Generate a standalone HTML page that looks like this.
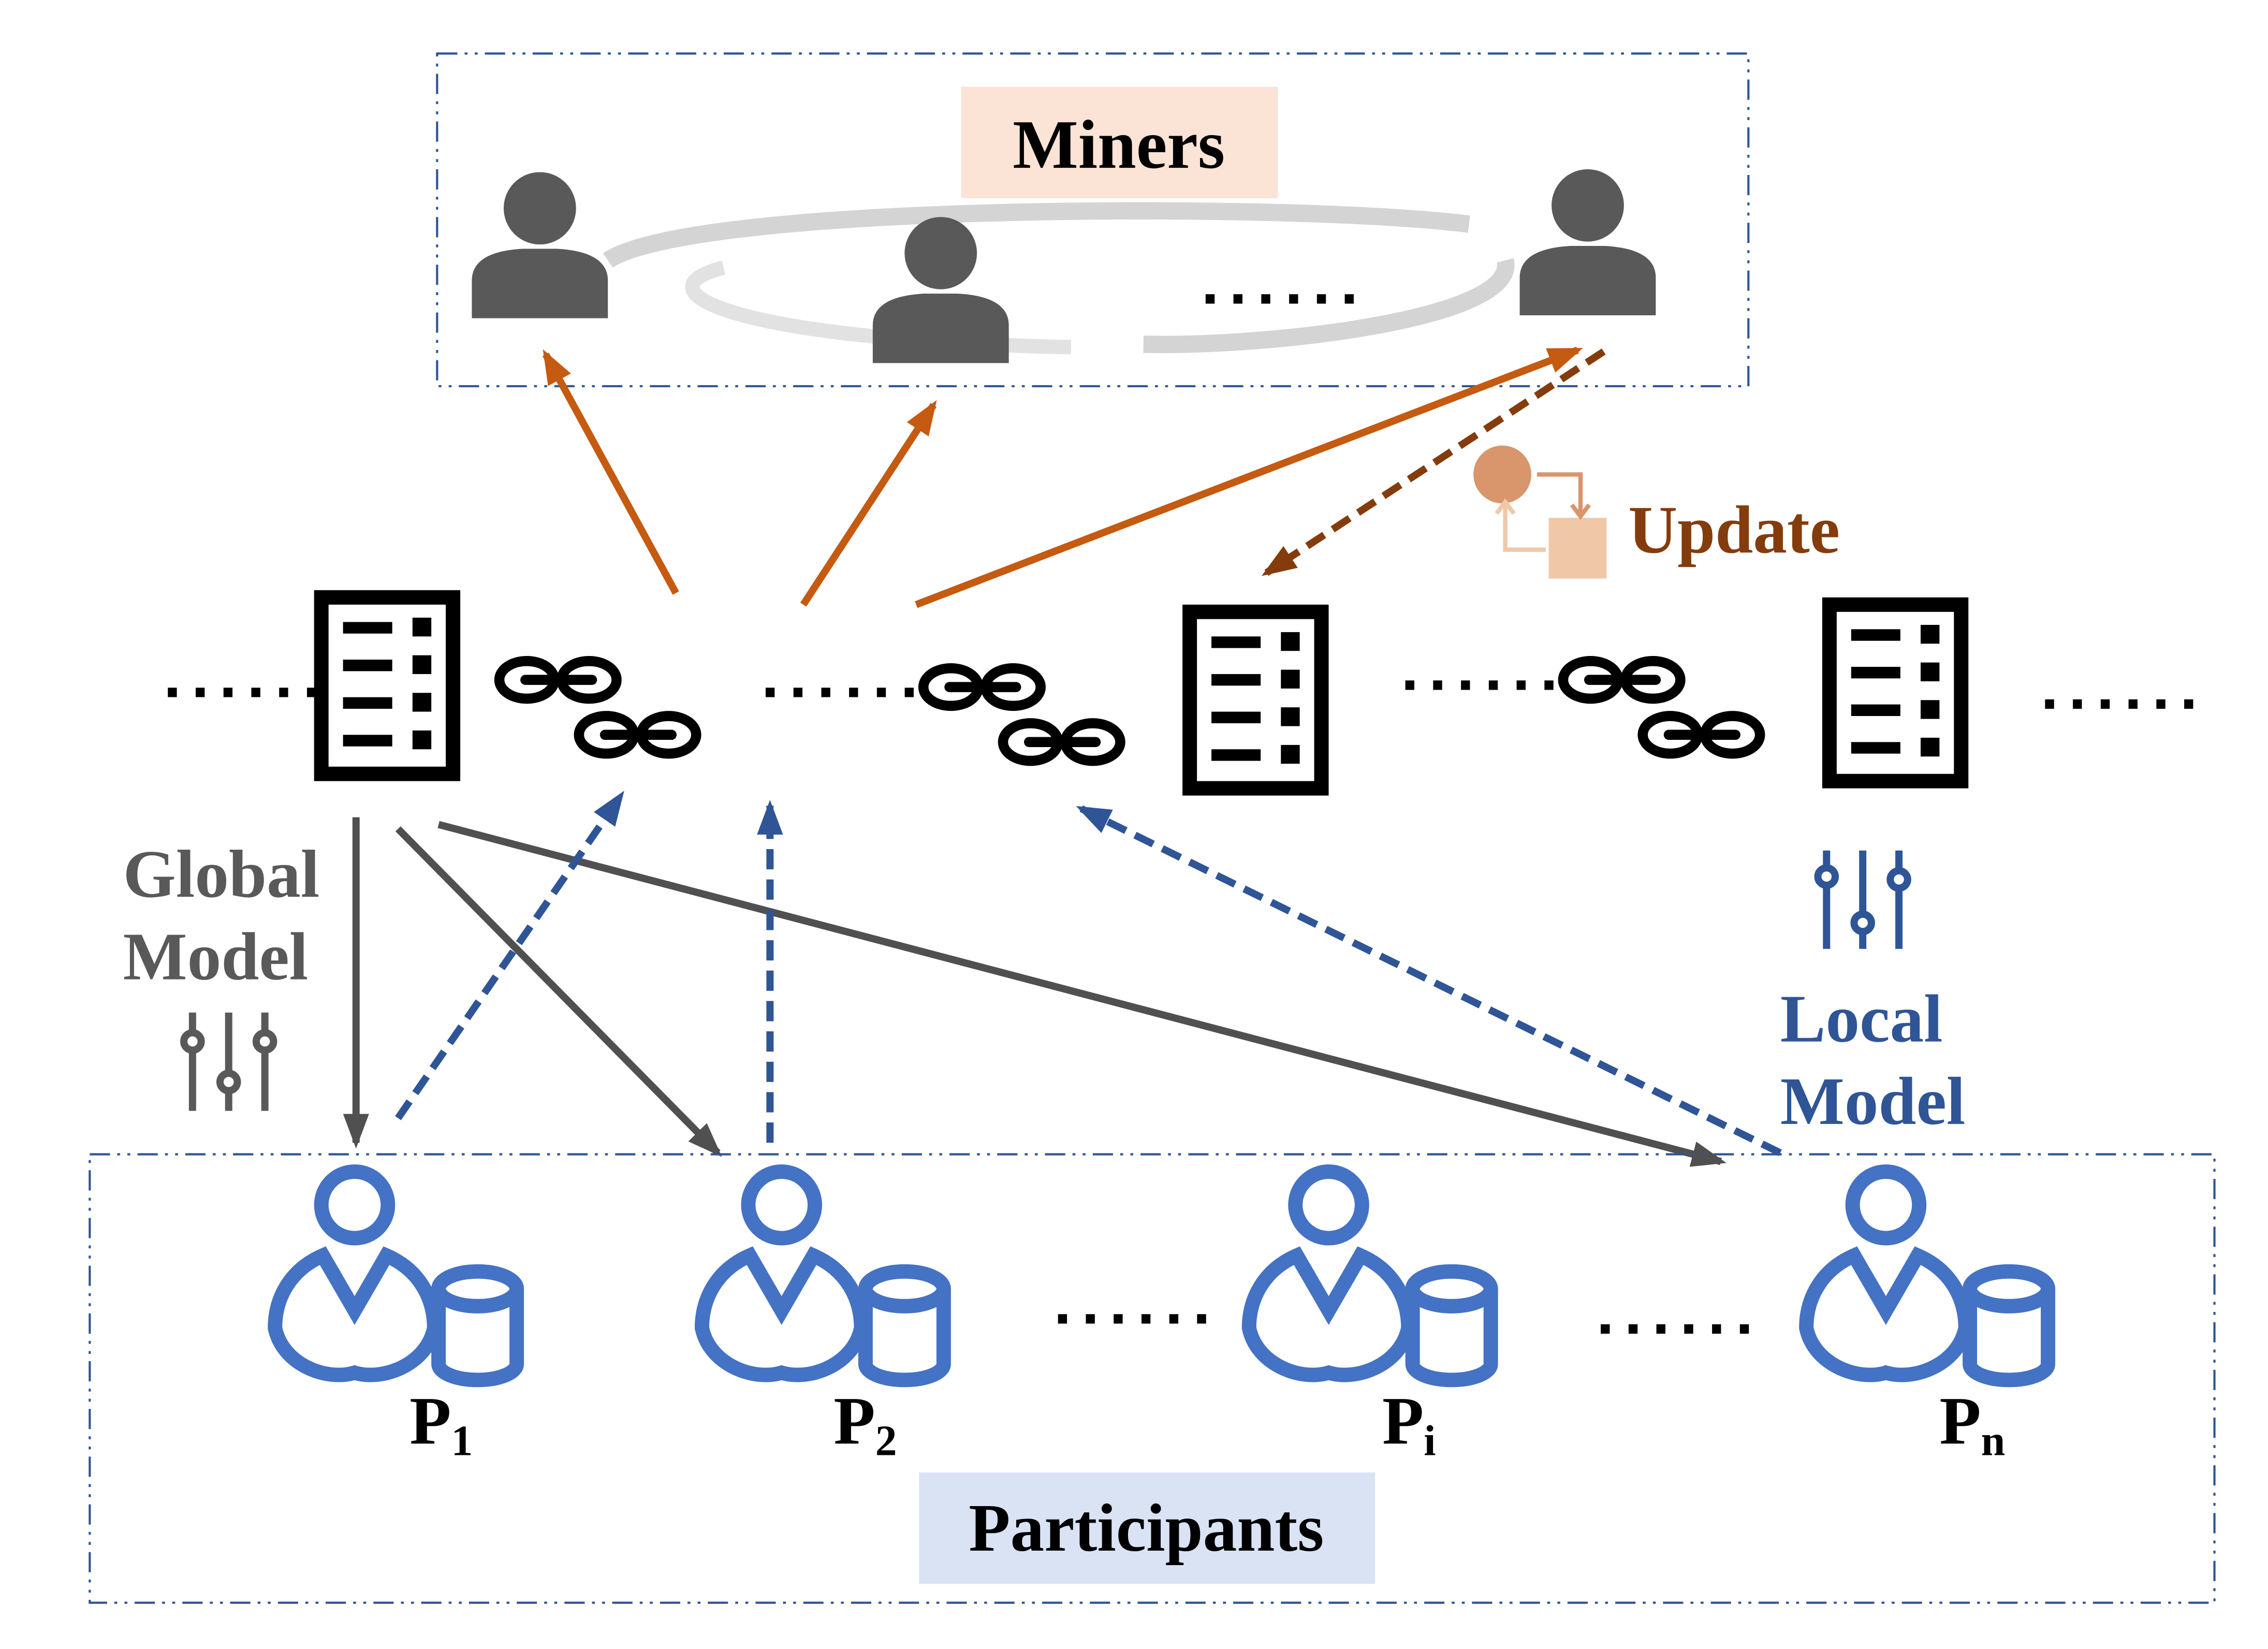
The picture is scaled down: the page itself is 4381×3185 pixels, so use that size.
<!DOCTYPE html>
<html><head><meta charset="utf-8"><style>
html,body{margin:0;padding:0;background:#fff}
svg{display:block}
text{font-family:"Liberation Serif",serif;font-weight:bold}
.dots{font-family:"Liberation Sans",sans-serif;font-size:44px;letter-spacing:7px;font-weight:bold}
</style></head><body>
<svg width="4381" height="3185" viewBox="0 0 1567 1140" preserveAspectRatio="none" xmlns="http://www.w3.org/2000/svg">
<defs>
<marker id="ao" markerWidth="26" markerHeight="20" refX="20" refY="10" orient="auto" markerUnits="userSpaceOnUse"><path d="M0,1 L24,10 L0,19 Z" fill="#c55a11"/></marker>
<marker id="ab" markerWidth="26" markerHeight="20" refX="20" refY="10" orient="auto" markerUnits="userSpaceOnUse"><path d="M0,1 L24,10 L0,19 Z" fill="#843c0c"/></marker>
<marker id="ag" markerWidth="26" markerHeight="20" refX="20" refY="10" orient="auto" markerUnits="userSpaceOnUse"><path d="M0,1 L24,10 L0,19 Z" fill="#505050"/></marker>
<marker id="au" markerWidth="26" markerHeight="20" refX="20" refY="10" orient="auto" markerUnits="userSpaceOnUse"><path d="M0,1 L24,10 L0,19 Z" fill="#2f5597"/></marker>
<g id="doc">
<rect x="5" y="5" width="91" height="122" fill="#fff" stroke="#000" stroke-width="10"/>
<rect x="20" y="22" width="34" height="8" fill="#000"/><rect x="68" y="19" width="13" height="13" fill="#000"/>
<rect x="20" y="48" width="34" height="8" fill="#000"/><rect x="68" y="45" width="13" height="13" fill="#000"/>
<rect x="20" y="74" width="34" height="8" fill="#000"/><rect x="68" y="71" width="13" height="13" fill="#000"/>
<rect x="20" y="100" width="34" height="8" fill="#000"/><rect x="68" y="97" width="13" height="13" fill="#000"/>
</g>
<g id="chain" fill="none" stroke="#000" stroke-width="7">
<ellipse cx="21" cy="15" rx="19" ry="13"/><ellipse cx="64" cy="15" rx="19" ry="13"/>
<line x1="20" y1="15" x2="66" y2="15" stroke-linecap="round"/>
<ellipse cx="76" cy="53" rx="19" ry="13"/><ellipse cx="119" cy="53" rx="19" ry="13"/>
<line x1="75" y1="53" x2="121" y2="53" stroke-linecap="round"/>
</g>
<g id="miner" fill="#595959">
<circle cx="0" cy="-28" r="25"/>
<path d="M-47,48 L-47,22 Q-47,2 -12,0 L12,0 Q47,2 47,22 L47,48 Z"/>
</g>
<g id="part" fill="none" stroke="#4472c4" stroke-width="10">
<circle cx="0" cy="30" r="23"/>
<path d="M-22,65 C-45,75 -55,95 -55,115 C-50,140 -20,152 0,146 C20,152 50,140 55,115 C55,95 45,75 22,65 L0,103 Z" stroke-linejoin="miter"/>
<path d="M58,88 L58,140 A27,11 0 0 0 112,140 L112,88"/>
<ellipse cx="85" cy="88" rx="27" ry="12"/>
</g>
<g id="slg" stroke="#595959" stroke-width="5" fill="#fff">
<line x1="0" y1="0" x2="0" y2="68"/><line x1="25" y1="0" x2="25" y2="68"/><line x1="50" y1="0" x2="50" y2="68"/>
<circle cx="0" cy="20" r="6"/><circle cx="25" cy="48" r="6"/><circle cx="50" cy="20" r="6"/>
</g>
<g id="slb" stroke="#2f5597" stroke-width="5" fill="#fff">
<line x1="0" y1="0" x2="0" y2="68"/><line x1="25" y1="0" x2="25" y2="68"/><line x1="50" y1="0" x2="50" y2="68"/>
<circle cx="0" cy="18" r="6"/><circle cx="25" cy="50" r="6"/><circle cx="50" cy="20" r="6"/>
</g>
</defs>

<rect x="302" y="37" width="906" height="230" fill="none" stroke="#2f5597" stroke-width="1.5" stroke-dasharray="14 5 2 5 2 5"/>
<rect x="664" y="60" width="219" height="77" fill="#fbe3d6"/>
<text x="773" y="116" font-size="48" text-anchor="middle" fill="#000">Miners</text>
<path d="M420,180 C480,140 900,140 1015,155" fill="none" stroke="#d4d4d4" stroke-width="12"/>
<path d="M1040,180 C1050,220 880,240 790,238" fill="none" stroke="#d4d4d4" stroke-width="12"/>
<path d="M500,185 C440,200 500,235 740,240" fill="none" stroke="#e2e2e2" stroke-width="10"/>
<use href="#miner" x="373" y="172"/>
<use href="#miner" x="650" y="203"/>
<use href="#miner" x="1097" y="170"/>
<text x="830" y="210" class="dots">......</text>

<text x="113" y="482" class="dots">......</text>
<use href="#doc" x="217" y="408"/>
<use href="#chain" x="343" y="455"/>
<text x="526" y="482" class="dots">......</text>
<use href="#chain" x="636" y="460"/>
<use href="#doc" x="817" y="418"/>
<text x="968" y="477" class="dots">......</text>
<use href="#chain" x="1078" y="455"/>
<use href="#doc" x="1259" y="413"/>
<text x="1410" y="490" class="dots">......</text>

<line x1="467" y1="410" x2="377" y2="245" stroke="#c55a11" stroke-width="5" marker-end="url(#ao)"/>
<line x1="555" y1="418" x2="645" y2="280" stroke="#c55a11" stroke-width="5" marker-end="url(#ao)"/>
<line x1="633" y1="418" x2="1090" y2="242" stroke="#c55a11" stroke-width="5" marker-end="url(#ao)"/>
<line x1="1108" y1="243" x2="875" y2="396" stroke="#843c0c" stroke-width="5" stroke-dasharray="14 7" marker-end="url(#ab)"/>

<circle cx="1038" cy="328" r="20" fill="#d9956b"/>
<rect x="1070" y="358" width="40" height="42" fill="#f0c8a8"/>
<path d="M1062,328 L1092,328 L1092,355" fill="none" stroke="#d9956b" stroke-width="3"/>
<path d="M1086,349 L1092,357 L1098,349" fill="none" stroke="#d9956b" stroke-width="3"/>
<path d="M1068,380 L1040,380 L1040,348" fill="none" stroke="#f0c8a8" stroke-width="3"/>
<path d="M1034,355 L1040,347 L1046,355" fill="none" stroke="#f0c8a8" stroke-width="3"/>
<text x="1125" y="382" font-size="47" fill="#843c0c">Update</text>

<line x1="246" y1="565" x2="246" y2="790" stroke="#505050" stroke-width="5" marker-end="url(#ag)"/>
<line x1="275" y1="573" x2="496" y2="797" stroke="#505050" stroke-width="5" marker-end="url(#ag)"/>
<line x1="303" y1="570" x2="1189" y2="803" stroke="#505050" stroke-width="5" marker-end="url(#ag)"/>

<line x1="275" y1="773" x2="429" y2="550" stroke="#2f5597" stroke-width="5" stroke-dasharray="14 7" marker-end="url(#au)"/>
<line x1="532" y1="790" x2="532" y2="557" stroke="#2f5597" stroke-width="5" stroke-dasharray="14 7" marker-end="url(#au)"/>
<line x1="1230" y1="797" x2="747" y2="559" stroke="#2f5597" stroke-width="5" stroke-dasharray="14 7" marker-end="url(#au)"/>

<text x="85" y="620" font-size="47" fill="#595959">Global</text>
<text x="85" y="677" font-size="47" fill="#595959">Model</text>
<use href="#slg" x="133" y="700"/>
<use href="#slb" x="1262" y="588"/>
<text x="1230" y="720" font-size="47" fill="#2f5597">Local</text>
<text x="1230" y="777" font-size="47" fill="#2f5597">Model</text>

<rect x="62" y="798" width="1468" height="310" fill="none" stroke="#2f5597" stroke-width="1.5" stroke-dasharray="14 5 2 5 2 5"/>
<use href="#part" x="245" y="803"/>
<use href="#part" x="540" y="803"/>
<use href="#part" x="918" y="803"/>
<use href="#part" x="1303" y="803"/>
<text x="283" y="998" font-size="47" fill="#000">P<tspan font-size="30" dy="8">1</tspan></text>
<text x="576" y="998" font-size="47" fill="#000">P<tspan font-size="30" dy="8">2</tspan></text>
<text x="955" y="998" font-size="47" fill="#000">P<tspan font-size="30" dy="8">i</tspan></text>
<text x="1340" y="998" font-size="47" fill="#000">P<tspan font-size="30" dy="8">n</tspan></text>
<text x="728" y="915" class="dots">......</text>
<text x="1103" y="922" class="dots">......</text>
<rect x="635" y="1018" width="315" height="77" fill="#dae3f3"/>
<text x="792" y="1072" font-size="47" text-anchor="middle" fill="#000">Participants</text>
</svg>
</body></html>
